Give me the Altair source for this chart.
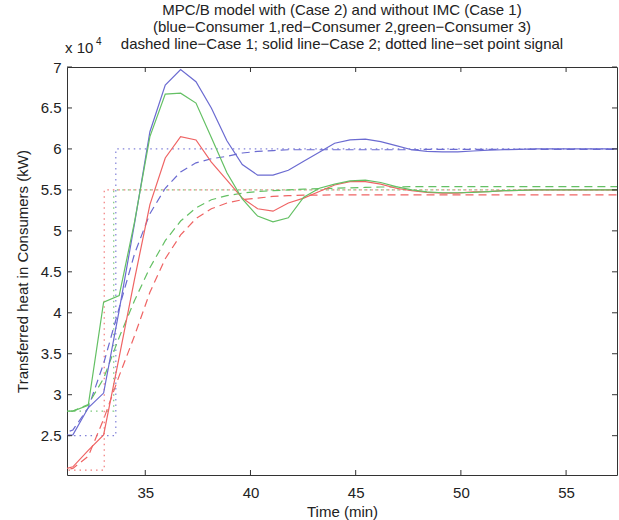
import altair as alt
import pandas as pd

# time samples (min)
time = [30.83, 31.56, 32.29, 33.02, 33.76, 34.49, 35.22, 35.95, 36.68, 37.41,
        38.14, 38.88, 39.61, 40.34, 41.07, 41.80, 42.53, 43.27, 44.00, 44.73,
        45.46, 46.19, 46.92, 47.66, 48.39, 49.12, 49.85, 50.58, 51.31, 52.05,
        52.78, 53.51, 54.24, 54.97, 55.70, 56.44, 57.17, 57.90]

# Case 2 (solid), values in 10^4 kW
blue_case2 = [2.50, 2.51, 2.84, 3.02, 4.03, 5.09, 6.21, 6.78, 6.97, 6.82,
              6.50, 6.10, 5.81, 5.68, 5.68, 5.74, 5.85, 5.96, 6.07, 6.11,
              6.12, 6.09, 6.04, 5.99, 5.97, 5.965, 5.965, 5.975, 5.985, 5.99,
              5.995, 6.0, 6.0, 6.0, 6.0, 6.0, 6.0, 6.0]
red_case2 = [2.07, 2.12, 2.32, 2.51, 3.46, 4.41, 5.32, 5.89, 6.15, 6.11,
             5.84, 5.62, 5.40, 5.27, 5.24, 5.34, 5.40, 5.48, 5.56, 5.60,
             5.60, 5.57, 5.52, 5.49, 5.47, 5.46, 5.46, 5.475, 5.48, 5.49,
             5.495, 5.50, 5.50, 5.50, 5.50, 5.50, 5.50, 5.50]
green_case2 = [2.80, 2.80, 2.87, 4.13, 4.21, 5.11, 6.15, 6.67, 6.68, 6.56,
               6.14, 5.71, 5.39, 5.18, 5.11, 5.16, 5.41, 5.52, 5.57, 5.61,
               5.62, 5.59, 5.54, 5.50, 5.475, 5.465, 5.465, 5.47, 5.48, 5.49,
               5.495, 5.50, 5.50, 5.50, 5.50, 5.50, 5.50, 5.50]

# Case 1 (dashed)
blue_case1 = [2.50, 2.57, 2.84, 3.38, 4.06, 4.72, 5.21, 5.52, 5.72, 5.83,
              5.88, 5.91, 5.95, 5.97, 5.98, 5.99, 5.99, 5.99, 5.99, 5.99,
              5.99, 5.99, 5.99, 5.99, 5.995, 5.995, 5.995, 5.995, 5.995, 5.995,
              5.995, 5.995, 5.995, 5.995, 5.995, 5.995, 5.995, 5.995]
red_case1 = [2.07, 2.10, 2.25, 2.70, 3.23, 3.72, 4.25, 4.66, 4.95, 5.15,
             5.27, 5.34, 5.38, 5.40, 5.42, 5.43, 5.435, 5.435, 5.44, 5.44,
             5.44, 5.44, 5.44, 5.44, 5.44, 5.44, 5.44, 5.44, 5.44, 5.44,
             5.44, 5.44, 5.44, 5.44, 5.44, 5.44, 5.44, 5.44]
green_case1 = [2.80, 2.80, 2.88, 3.20, 3.70, 4.15, 4.55, 4.88, 5.12, 5.28,
               5.38, 5.43, 5.46, 5.48, 5.49, 5.50, 5.51, 5.515, 5.52, 5.525,
               5.53, 5.535, 5.535, 5.54, 5.54, 5.54, 5.54, 5.54, 5.54, 5.54,
               5.54, 5.54, 5.54, 5.54, 5.54, 5.54, 5.54, 5.54]

# set point signals (step)
sp_blue_t = [30.83, 33.60, 33.60, 57.90]
sp_blue_v = [2.50, 2.50, 6.00, 6.00]
sp_green_t = [30.83, 33.50, 33.50, 57.90]
sp_green_v = [2.80, 2.80, 5.50, 5.50]
sp_red_t = [30.83, 33.05, 33.05, 57.90]
sp_red_v = [2.08, 2.08, 5.50, 5.50]

x_ticks = [35, 40, 45, 50, 55]
y_ticks = [2.5, 3, 3.5, 4, 4.5, 5, 5.5, 6, 6.5, 7]

series = ["Consumer 1", "Consumer 2", "Consumer 3"]
colors = ["#6b6bd1", "#ef6464", "#64c064"]

rows = []
for name, c1, c2 in zip(series, [blue_case1, red_case1, green_case1],
                        [blue_case2, red_case2, green_case2]):
    for t, v in zip(time, c1):
        rows.append({"t": t, "v": v, "s": name, "case": "Case 1"})
    for t, v in zip(time, c2):
        rows.append({"t": t, "v": v, "s": name, "case": "Case 2"})
df = pd.DataFrame(rows)

sp_rows = []
for name, ts, vs in zip(series, [sp_blue_t, sp_red_t, sp_green_t],
                        [sp_blue_v, sp_red_v, sp_green_v]):
    for i, (t, v) in enumerate(zip(ts, vs)):
        sp_rows.append({"t": t, "v": v, "s": name, "o": i})
sp_df = pd.DataFrame(sp_rows)

W, H = 550, 408
FONT = "Liberation Sans"
FS = 15

xs = alt.Scale(domain=[31.28, 57.42], nice=False, zero=False)
ys = alt.Scale(domain=[2.02, 7.0], nice=False, zero=False)
cs = alt.Scale(domain=series, range=colors)

x_axis = alt.Axis(values=x_ticks, tickSize=0, domain=False, grid=False,
                  labelFontSize=FS, labelFont=FONT, labelColor="#222",
                  labelPadding=10, title="Time (min)", titleFont=FONT,
                  titleFontSize=FS, titleFontWeight="normal", titleColor="#222",
                  titleY=36, titleBaseline="middle")
y_axis = alt.Axis(values=y_ticks, tickSize=0, domain=False, grid=False,
                  labelFontSize=FS, labelFont=FONT, labelColor="#222",
                  labelPadding=6, labelExpr="'' + datum.value",
                  title="Transferred heat in Consumers (kW)", titleFont=FONT,
                  titleFontSize=FS, titleFontWeight="normal", titleColor="#222",
                  titleX=-45, titleY=H / 2, titleAngle=-90, titleAlign="center",
                  titleBaseline="middle")

base = alt.Chart(df)

solid = base.transform_filter(alt.datum.case == "Case 2").mark_line(
    strokeWidth=1.2, clip=True).encode(
    x=alt.X("t:Q", scale=xs, axis=x_axis),
    y=alt.Y("v:Q", scale=ys, axis=y_axis),
    color=alt.Color("s:N", scale=cs, legend=None),
    order="t:Q")

dashed = base.transform_filter(alt.datum.case == "Case 1").mark_line(
    strokeWidth=1.2, strokeDash=[8, 5], clip=True).encode(
    x=alt.X("t:Q", scale=xs),
    y=alt.Y("v:Q", scale=ys),
    color=alt.Color("s:N", scale=cs, legend=None),
    order="t:Q")

dotted = alt.Chart(sp_df).mark_line(
    strokeWidth=1.2, strokeDash=[1.5, 4], clip=True, opacity=0.85).encode(
    x=alt.X("t:Q", scale=xs),
    y=alt.Y("v:Q", scale=ys),
    color=alt.Color("s:N", scale=cs, legend=None),
    order="o:Q")

xt = pd.DataFrame({"x": x_ticks})
yt = pd.DataFrame({"y": y_ticks})
tick_col = "#333"
t_bot = alt.Chart(xt).mark_rule(color=tick_col).encode(
    x=alt.X("x:Q", scale=xs), y=alt.value(H), y2=alt.value(H - 5))
t_top = alt.Chart(xt).mark_rule(color=tick_col).encode(
    x=alt.X("x:Q", scale=xs), y=alt.value(0), y2=alt.value(5))
t_left = alt.Chart(yt).mark_rule(color=tick_col).encode(
    y=alt.Y("y:Q", scale=ys), x=alt.value(0), x2=alt.value(5))
t_right = alt.Chart(yt).mark_rule(color=tick_col).encode(
    y=alt.Y("y:Q", scale=ys), x=alt.value(W), x2=alt.value(W - 5))

exp_df = pd.DataFrame({"a": ["x 10"], "b": ["4"]})
exp_main = alt.Chart(exp_df).mark_text(
    font=FONT, fontSize=FS, align="left", baseline="middle", color="#222").encode(
    text="a:N", x=alt.value(-2), y=alt.value(-19))
exp_sup = alt.Chart(exp_df).mark_text(
    font=FONT, fontSize=10, align="left", baseline="middle", color="#222").encode(
    text="b:N", x=alt.value(29), y=alt.value(-25))

chart = alt.layer(
    dotted, dashed, solid, t_bot, t_top, t_left, t_right, exp_main, exp_sup
).properties(
    width=W, height=H,
    title=alt.TitleParams(
        text=["MPC/B model with (Case 2) and without IMC (Case 1)",
              "(blue\u2212Consumer 1,red\u2212Consumer 2,green\u2212Consumer 3)",
              "dashed line\u2212Case 1; solid line\u2212Case 2; dotted line\u2212set point signal"],
        font=FONT, fontSize=FS, fontWeight="normal", color="#222",
        anchor="middle", frame="group", lineHeight=17, offset=8, dy=23),
    autosize=alt.AutoSizeParams(type="none"),
    padding={"left": 67, "top": 67, "right": 2, "bottom": 45},
).configure_view(stroke="#333", strokeWidth=1)

chart.save("out.html", embed_options={"renderer": "svg", "actions": False})
